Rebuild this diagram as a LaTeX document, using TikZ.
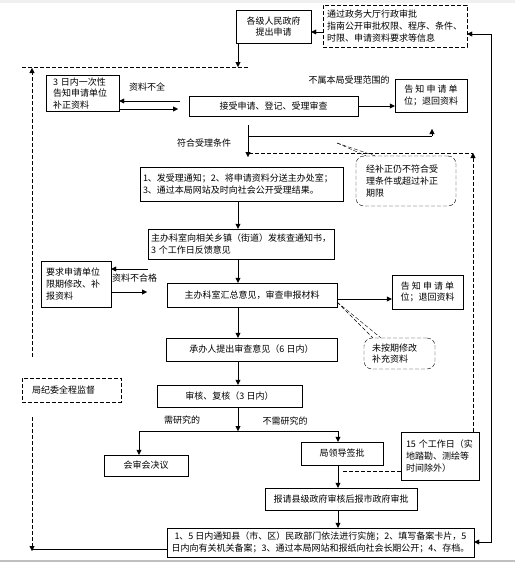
\documentclass[tikz,border=0pt]{standalone}
\usepackage{fontspec}
\setmainfont{Noto Sans CJK SC}
\usetikzlibrary{arrows.meta}

\begin{document}
\begin{tikzpicture}[x=1pt,y=-1pt,every node/.style={font=\fs}]
\def\fs{\fontsize{9pt}{11.8pt}\selectfont}
\tikzstyle{box}=[draw,align=center,inner sep=2pt];
\tikzstyle{lbox}=[draw,align=left,inner xsep=5pt,inner ysep=2pt];
\tikzstyle{dl}=[dash pattern=on 4pt off 2pt];
\tikzstyle{dbox}=[draw,dl,align=left,inner xsep=5pt,inner ysep=2pt];
\tikzstyle{cloud}=[draw,dl,rounded corners=8pt,align=left,inner xsep=10pt];
\tikzstyle{arr}=[-{Triangle[length=5pt,width=5pt]}];
\tikzstyle{lbl}=[inner sep=1pt];

\useasboundingbox (0,0) rectangle (515,563);
\fill [gray!12] (0,0) rectangle (515,3);
\draw [gray!50,line width=2pt] (0,561) -- (515,561);

\coordinate (m) at (238,0);

\node [box,minimum width=75pt,minimum height=33pt] (v1) at (273.5,26.5) {各级人民政府\\提出申请};
\node [dbox,inner xsep=4pt,text width=136pt,minimum height=42pt] (v2) at (395,26) {通过政务大厅行政审批\\指南公开审批权限、程序、条件、\\时限、申请资料要求等信息};
\draw [arr] (v2.west |- 0,32) -- (v1.east |- 0,32);

\coordinate (t1) at (22,67);
\coordinate (t2) at (248,67);
\draw [dl] (t1) -- (t2);
\draw [arr] (v1.south -| m) -- (m |- t1);

%%

\node [lbox,inner xsep=7pt,text width=59pt,minimum height=35pt] (v3) at (82.5,93.5) {3 日内一次性\\告知申请单位\\补正资料};
\node [box,minimum width=169pt,minimum height=20pt] (v4) at (273.5,106) {接受申请、登记、受理审查};
\node [box,minimum width=72pt,minimum height=33pt] (v5) at (431,95.5) {告 知 申 请 单\\位；退回资料};
\node [lbl] (l1) at (147,87) {资料不全};
\node [lbl] (l2) at (349,80) {不属本局受理范围的};
\coordinate (a1) at (180,101);
\coordinate (a2) at (178,109);
\draw [arr] (a1) -- (a1 -| v3.east);
\draw [arr] (a2 -| v3.east) -- (a2);
\draw [arr] (v4.east) -- (v4.east -| v5.west);

\coordinate (f0) at (248,125);
\coordinate (f1) at (248,136);
\coordinate (f2) at (432,136);
\coordinate (f3) at (432,129);
\coordinate (f4) at (248,157);
\draw (f0) -- (f1) -- (f2);
\draw [arr] (f2) -- (f3);
\draw [arr] (f1) -- (f4);
\node [lbl] (l3) at (204,143) {符合受理条件};

\node [cloud,text width=80pt,minimum height=50pt] (v7) at (406,181) {经补正仍不符合受\\理条件或超过补正\\期限};
\coordinate (c1) at (337,143);
\draw [dl] (c1) -- ([xshift=10pt]v7.north west);
\draw [dl] (c1) -- ([xshift=19pt]v7.north west);

\coordinate (d1) at (473,153);
\coordinate (d2) at (249,153);
\draw [dl] (d2) -- (d1);

%%

\node [lbox,inner xsep=3pt,text width=197pt,minimum height=34pt] (v6) at (241.5,184) {1、发受理通知；2、将申请资料分送主办处室；\\3、通过本局网站及时向社会公开受理结果。};
\node [lbox,inner xsep=3pt,text width=180pt,minimum height=30pt] (v8) at (241,244) {主办科室向相关乡镇（街道）发核查通知书，\\3 个工作日反馈意见};
\draw [arr] (v6.south -| m) -- (v8.north -| m);

\node [box,minimum width=170pt,minimum height=24pt] (v9) at (252,295) {主办科室汇总意见，审查申报材料};
\draw [arr] (v8.south -| m) -- (v9.north -| m);

\node [lbox,text width=60pt,minimum height=46pt] (v10) at (76,284) {要求申请单位\\限期修改、补\\报资料};
\node [lbl,anchor=west] (l4) at (111,278) {资料不合格};
\coordinate (b1) at (148,269);
\coordinate (b2) at (147,292);
\draw [arr] (b1) -- (b1 -| v10.east);
\draw [arr] (b2 -| v10.east) -- (b2);

\node [box,minimum width=71pt,minimum height=34pt] (v11) at (427.5,292) {告 知 申 请 单\\位；退回资料};
\draw [arr] ([yshift=-4pt]v9.east) -- ([yshift=-4pt]v9.east -| v11.west);

\node [cloud,inner xsep=8pt,text width=55pt,minimum height=31pt] (v12) at (399.5,353.5) {未按期修改\\补充资料};
\coordinate (c2) at (337,302);
\draw [dl] (c2) -- ([xshift=9pt]v12.north west);
\draw [dl] (c2) -- ([xshift=17pt]v12.north west);

\node [box,minimum width=171pt,minimum height=23pt] (v13) at (251.5,349.5) {承办人提出审查意见（6 日内）};
\draw [arr] (v9.south -| m) -- (v13.north -| m);
\node [box,minimum width=145pt,minimum height=22pt] (v14) at (229.5,396) {审核、复核（3 日内）};
\draw [arr] (v13.south -| m) -- (v14.north -| m);

%%

\coordinate (j) at (238,431);
\coordinate (j1) at (139,431);
\coordinate (j2) at (338,431);
\draw [arr] (v14.south -| j) -- (j);
\draw (j1) -- (j2);
\node [lbl] (l5) at (182,420) {需研究的};
\node [lbl] (l6) at (285,421) {不需研究的};

\node [box,minimum width=84pt,minimum height=21pt] (v15) at (146,465.5) {会审会决议};
\node [box,minimum width=82pt,minimum height=23pt] (v16) at (342,453.5) {局领导签批};
\draw [arr] (j1) -- (j1 |- v15.north);
\draw [arr] (j2) -- (j2 |- v16.north);

\node [lbox,inner xsep=5pt,text width=68pt,minimum height=48pt] (v17) at (440,456) {15 个工作日（实\\地踏勘、测绘等\\时间除外）};
\draw [dl,arr] (v17.north -| d1) -- (d1);
\coordinate (d3) at (341,471);
\draw [dl] (v17.west |- d3) -- (d3);

\node [box,minimum width=152pt,minimum height=22pt] (v18) at (341,499) {报请县级政府审核后报市政府审批};
\draw [arr] (j2 |- v16.south) -- (j2 |- v18.north);

\node [box,minimum width=307pt,minimum height=29pt] (v19) at (320.5,542.5) {1、5 日内通知县（市、区）民政部门依法进行实施；2、填写备案卡片，5\\日内向有关机关备案；3、通过本局网站和报纸向社会长期公开；4、存档。};
\draw [arr] (j2 |- v18.south) -- (j2 |- v19.north);

\coordinate (r1) at (491,34);
\coordinate (r2) at (491,542);
\draw [{Triangle[length=5pt,width=5pt]}-{Triangle[length=5pt,width=5pt]}] (r2 -| v19.east) -- (r2) -- (r1) -- (r1 -| v2.east);

%%

\node [dbox,inner xsep=10pt,text width=79pt,minimum height=24pt] (v20) at (71.5,390) {局纪委全程监督};
\coordinate (s1) at (32,68);
\coordinate (s2) at (32,357);
\coordinate (s3) at (32,417);
\coordinate (s4) at (32,551);
\coordinate (s5) at (32,549);
\draw [dl,arr] (s2) -- (s1);
\draw [dl,arr] (s3) -- (s4);
\draw (s5) -- (s5 -| v19.west);
\end{tikzpicture}
\end{document}
